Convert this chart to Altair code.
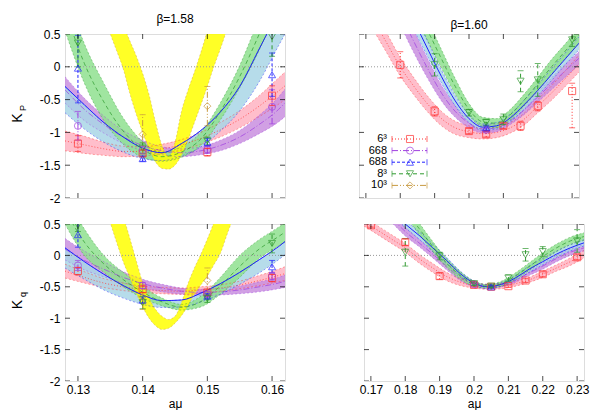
import altair as alt
import pandas as pd

FONT = "Liberation Sans"

SERIES = ["6^3", "668", "688", "8^3", "10^3"]
LEGEND_TEXT = ["6³", "668", "688", "8³", "10³"]
LINE_COLORS = ["#ff3030", "#a040e0", "#2020ff", "#309a30", "#c89a40"]
BAND_COLORS = ["#ffb3c2", "#c98fdf", "#a9d6e6", "#8fe08f", "#ffff00"]
SHAPES = ["square", "circle", "triangle-up", "triangle-down", "diamond"]
DASHES = [[1, 2], [6, 2, 1, 2], [3, 2], [4, 3], [6, 2, 1, 2, 1, 2]]

Y_TICKS = [0.5, 0, -0.5, -1, -1.5, -2]
X_TICKS_LEFT = [0.13, 0.14, 0.15, 0.16]
X_TICKS_RIGHT = [0.17, 0.18, 0.19, 0.2, 0.21, 0.22, 0.23]

X_LEFT = [0.128, 0.131, 0.134, 0.137, 0.140, 0.143, 0.146, 0.149, 0.152, 0.155, 0.158, 0.161, 0.162]
X_RIGHT = [0.168, 0.172, 0.176, 0.180, 0.184, 0.188, 0.192, 0.196, 0.200, 0.204,
           0.208, 0.212, 0.216, 0.220, 0.224, 0.228, 0.232]
X_YELLOW = [0.134, 0.135, 0.136, 0.137, 0.138, 0.139, 0.140, 0.141, 0.142, 0.143, 0.144,
            0.145, 0.146, 0.147, 0.148, 0.149, 0.150, 0.151, 0.152, 0.153, 0.154]

# ---- beta=1.58, K_P (top-left): band lower / upper edges
TL_RED_LO = [-1.28, -1.32, -1.35, -1.37, -1.36, -1.32, -1.27, -1.18, -1.07, -0.93, -0.76, -0.57, -0.50]
TL_RED_HI = [-0.98, -1.06, -1.15, -1.21, -1.22, -1.18, -1.11, -1.00, -0.85, -0.67, -0.44, -0.17, -0.08]
TL_PUR_LO = [-0.55, -0.82, -1.01, -1.17, -1.28, -1.34, -1.37, -1.34, -1.28, -1.17, -1.02, -0.84, -0.76]
TL_PUR_HI = [-0.15, -0.48, -0.75, -0.97, -1.12, -1.22, -1.25, -1.22, -1.12, -0.97, -0.74, -0.46, -0.34]
TL_BLU_LO = [-0.70, -0.95, -1.15, -1.30, -1.40, -1.43, -1.36, -1.22, -0.98, -0.67, -0.23, 0.32, 0.50]
TL_BLU_HI = [-0.30, -0.58, -0.85, -1.07, -1.24, -1.31, -1.17, -0.97, -0.69, -0.30, 0.27, 0.85, 1.05]
TL_GRN_LO = [0.55, -0.25, -0.82, -1.18, -1.38, -1.44, -1.38, -1.20, -0.81, -0.32, 0.25, 0.95, 1.20]
TL_GRN_HI = [1.20, 0.35, -0.25, -0.78, -1.14, -1.30, -1.22, -1.00, -0.55, 0.02, 0.74, 1.45, 1.70]
TL_YEL_LO = [0.78, 0.50, 0.24, -0.03, -0.40, -0.72, -1.00, -1.25, -1.45, -1.55, -1.56,
             -1.50, -1.35, -1.12, -0.85, -0.58, -0.30, 0.00, 0.27, 0.56, 0.85]
TL_YEL_HI = [1.36, 1.12, 0.88, 0.64, 0.40, 0.17, -0.10, -0.43, -0.85, -1.20, -1.36,
             -1.15, -0.68, -0.36, -0.08, 0.22, 0.55, 0.90, 1.25, 1.60, 2.00]

# ---- beta=1.58, K_q (bottom-left)
BL_RED_LO = [-0.36, -0.44, -0.51, -0.56, -0.59, -0.61, -0.62, -0.60, -0.57, -0.53, -0.48, -0.42, -0.40]
BL_RED_HI = [-0.14, -0.26, -0.37, -0.44, -0.49, -0.51, -0.52, -0.50, -0.47, -0.41, -0.32, -0.22, -0.18]
BL_PUR_LO = [-0.07, -0.23, -0.34, -0.44, -0.52, -0.58, -0.62, -0.64, -0.63, -0.61, -0.58, -0.53, -0.51]
BL_PUR_HI = [0.27, 0.07, -0.10, -0.26, -0.38, -0.46, -0.52, -0.54, -0.53, -0.49, -0.42, -0.35, -0.31]
BL_BLU_LO = [-0.20, -0.38, -0.55, -0.68, -0.78, -0.83, -0.82, -0.74, -0.62, -0.46, -0.28, -0.07, 0.01]
BL_BLU_HI = [0.12, -0.10, -0.30, -0.48, -0.63, -0.72, -0.71, -0.60, -0.45, -0.27, -0.07, 0.14, 0.22]
BL_GRN_LO = [0.50, 0.00, -0.27, -0.50, -0.68, -0.80, -0.87, -0.82, -0.62, -0.35, -0.05, 0.15, 0.22]
BL_GRN_HI = [0.95, 0.42, 0.00, -0.27, -0.49, -0.68, -0.78, -0.65, -0.35, 0.00, 0.25, 0.45, 0.52]
BL_YEL_LO = [0.85, 0.52, 0.20, -0.10, -0.35, -0.60, -0.82, -1.00, -1.12, -1.18, -1.16,
             -1.08, -0.96, -0.80, -0.62, -0.47, -0.33, -0.15, 0.03, 0.32, 0.60]
BL_YEL_HI = [1.68, 1.33, 0.98, 0.63, 0.28, -0.08, -0.43, -0.68, -0.86, -0.97, -1.02,
             -0.97, -0.75, -0.45, -0.20, 0.02, 0.26, 0.52, 0.80, 1.10, 1.40]

# ---- beta=1.60, K_P (top-right)
TR_RED_LO = [0.96, 0.58, 0.22, -0.14, -0.43, -0.69, -0.90, -1.03, -1.08, -1.10, -1.08, -1.01, -0.89, -0.70, -0.51, -0.30, -0.08]
TR_RED_HI = [1.28, 0.90, 0.52, 0.14, -0.17, -0.45, -0.68, -0.83, -0.90, -0.94, -0.92, -0.85, -0.71, -0.50, -0.29, -0.06, 0.18]
TR_PUR_LO = [2.00, 1.55, 1.09, 0.64, 0.21, -0.18, -0.52, -0.77, -0.93, -1.01, -0.99, -0.88, -0.73, -0.54, -0.35, -0.16, 0.03]
TR_PUR_HI = [2.40, 1.95, 1.47, 1.00, 0.55, 0.12, -0.28, -0.59, -0.79, -0.89, -0.87, -0.76, -0.59, -0.38, -0.17, 0.04, 0.23]
TR_BLU_LO = [2.36, 1.91, 1.46, 1.01, 0.56, 0.15, -0.25, -0.60, -0.85, -0.97, -0.95, -0.84, -0.65, -0.44, -0.21, 0.03, 0.26]
TR_BLU_HI = [2.64, 2.19, 1.74, 1.29, 0.84, 0.39, -0.05, -0.44, -0.73, -0.87, -0.85, -0.72, -0.51, -0.28, -0.03, 0.21, 0.46]
TR_GRN_LO = [2.52, 2.12, 1.67, 1.23, 0.80, 0.39, -0.02, -0.42, -0.74, -0.91, -0.93, -0.81, -0.60, -0.36, -0.11, 0.13, 0.36]
TR_GRN_HI = [2.88, 2.48, 2.03, 1.57, 1.14, 0.71, 0.26, -0.18, -0.56, -0.77, -0.79, -0.65, -0.42, -0.16, 0.11, 0.35, 0.60]

# ---- beta=1.60, K_q (bottom-right)
BR_RED_LO = [0.47, 0.33, 0.19, 0.05, -0.12, -0.27, -0.40, -0.48, -0.52, -0.54, -0.53, -0.49, -0.43, -0.35, -0.25, -0.16, -0.04]
BR_RED_HI = [0.61, 0.47, 0.33, 0.19, 0.02, -0.13, -0.27, -0.37, -0.44, -0.46, -0.45, -0.41, -0.35, -0.25, -0.15, -0.04, 0.08]
BR_PUR_LO = [1.03, 0.78, 0.53, 0.31, 0.14, -0.04, -0.23, -0.40, -0.50, -0.53, -0.50, -0.43, -0.32, -0.22, -0.10, 0.00, 0.07]
BR_PUR_HI = [1.17, 0.92, 0.67, 0.45, 0.26, 0.08, -0.11, -0.30, -0.42, -0.47, -0.44, -0.35, -0.24, -0.12, 0.00, 0.10, 0.17]
BR_BLU_LO = [1.14, 0.89, 0.66, 0.44, 0.26, 0.06, -0.13, -0.33, -0.47, -0.53, -0.49, -0.40, -0.27, -0.15, -0.03, 0.07, 0.15]
BR_BLU_HI = [1.26, 1.01, 0.78, 0.56, 0.38, 0.18, -0.03, -0.25, -0.41, -0.47, -0.43, -0.32, -0.17, -0.05, 0.07, 0.17, 0.25]
BR_GRN_LO = [1.40, 1.15, 0.90, 0.63, 0.34, 0.06, -0.19, -0.38, -0.49, -0.52, -0.49, -0.38, -0.24, -0.08, 0.06, 0.17, 0.24]
BR_GRN_HI = [1.60, 1.35, 1.10, 0.81, 0.52, 0.22, -0.05, -0.26, -0.41, -0.46, -0.41, -0.28, -0.12, 0.04, 0.18, 0.29, 0.36]

# ---- measured points: (series index, a*mu, value, error low, error high)
TL_POINTS = [
    (0, 0.13, -1.17, -1.29, -1.05), (0, 0.14, -1.32, -1.37, -1.27), (0, 0.15, -1.30, -1.36, -1.24), (0, 0.16, -0.44, -0.59, -0.29),
    (1, 0.13, -0.90, -1.12, -0.68), (1, 0.14, -1.27, -1.33, -1.21), (1, 0.15, -1.26, -1.32, -1.20), (1, 0.16, -0.61, -0.87, -0.35),
    (2, 0.13, -0.02, -0.55, 0.48), (2, 0.14, -1.40, -1.44, -1.36), (2, 0.15, -1.15, -1.21, -1.09), (2, 0.16, -0.12, -0.45, 0.21),
    (3, 0.13, 0.36, 0.00, 0.72), (3, 0.14, -1.24, -1.32, -1.16), (3, 0.15, -1.13, -1.19, -1.07), (3, 0.16, 0.46, 0.16, 0.76),
    (4, 0.14, -1.03, -1.33, -0.73), (4, 0.15, -0.60, -0.90, -0.30),
]
BL_POINTS = [
    (0, 0.13, -0.25, -0.31, -0.19), (0, 0.14, -0.54, -0.59, -0.49), (0, 0.15, -0.59, -0.63, -0.55), (0, 0.16, -0.36, -0.42, -0.30),
    (1, 0.13, -0.16, -0.24, -0.08), (1, 0.14, -0.48, -0.53, -0.43), (1, 0.15, -0.62, -0.66, -0.58), (1, 0.16, -0.33, -0.39, -0.27),
    (2, 0.13, 0.33, 0.13, 0.53), (2, 0.14, -0.71, -0.76, -0.66), (2, 0.15, -0.65, -0.69, -0.61), (2, 0.16, -0.18, -0.28, -0.08),
    (3, 0.13, 0.48, 0.38, 0.58), (3, 0.14, -0.75, -0.85, -0.65), (3, 0.15, -0.69, -0.75, -0.63), (3, 0.16, 0.19, 0.04, 0.34),
    (4, 0.14, -0.66, -0.86, -0.46), (4, 0.15, -0.40, -0.60, -0.20),
]
TR_POINTS = [
    (0, 0.18, 0.03, -0.17, 0.23), (0, 0.19, -0.68, -0.75, -0.61), (0, 0.20, -0.98, -1.02, -0.94), (0, 0.205, -1.03, -1.07, -0.99),
    (0, 0.21, -0.90, -0.94, -0.86), (0, 0.215, -0.90, -0.97, -0.83), (0, 0.22, -0.60, -0.67, -0.53), (0, 0.23, -0.37, -0.93, -0.25),
    (1, 0.205, -0.96, -0.99, -0.93),
    (2, 0.205, -0.93, -0.97, -0.89),
    (3, 0.19, 0.03, -0.14, 0.20), (3, 0.20, -0.70, -0.75, -0.65), (3, 0.205, -0.85, -0.90, -0.80), (3, 0.21, -0.80, -0.88, -0.72),
    (3, 0.215, -0.22, -0.38, -0.06), (3, 0.22, -0.20, -0.45, 0.05), (3, 0.23, 0.41, 0.31, 0.51),
]
BR_POINTS = [
    (0, 0.17, 0.48, 0.45, 0.51), (0, 0.18, 0.21, 0.16, 0.26), (0, 0.19, -0.33, -0.38, -0.28), (0, 0.20, -0.47, -0.50, -0.44),
    (0, 0.205, -0.50, -0.52, -0.48), (0, 0.21, -0.49, -0.51, -0.47), (0, 0.215, -0.40, -0.43, -0.37), (0, 0.22, -0.30, -0.34, -0.26),
    (0, 0.23, -0.03, -0.07, 0.01),
    (1, 0.20, -0.46, -0.48, -0.44),
    (2, 0.205, -0.50, -0.52, -0.48),
    (3, 0.18, 0.05, -0.17, 0.27), (3, 0.19, -0.01, -0.07, 0.05), (3, 0.20, -0.45, -0.48, -0.42), (3, 0.205, -0.49, -0.51, -0.47),
    (3, 0.21, -0.36, -0.41, -0.31), (3, 0.215, 0.01, -0.09, 0.11), (3, 0.22, 0.06, -0.02, 0.14), (3, 0.23, 0.23, 0.05, 0.41),
]

W = 220
H_TOP = 164
H_BOT = 157


def make_panel(xdom, xticks, bands, points, height, show_xlab, show_ylab,
               title=None, ysym=None, ysub=None, legend=False):
    xsc = alt.Scale(domain=xdom, nice=False, zero=False)
    ysc = alt.Scale(domain=[-2, 0.5], nice=False, zero=False)
    xe = alt.X("x:Q", scale=xsc, axis=None)
    layers = []
    for i, xs, lo, hi, solid_on_hi in bands:
        df = pd.DataFrame({"x": xs, "lo": lo, "hi": hi})
        layers.append(alt.Chart(df).mark_area(clip=True, interpolate="monotone",
                                              color=BAND_COLORS[i], opacity=0.85)
                      .encode(x=xe, y=alt.Y("lo:Q", scale=ysc, axis=None), y2="hi:Q"))
    for i, xs, lo, hi, solid_on_hi in bands:
        df = pd.DataFrame({"x": xs, "lo": lo, "hi": hi})
        df["mid"] = (df["lo"] + df["hi"]) / 2
        for col in ["lo", "hi"]:
            layers.append(alt.Chart(df).mark_line(clip=True, interpolate="monotone",
                                                  color=LINE_COLORS[i], strokeWidth=0.7,
                                                  strokeDash=[2, 2], opacity=0.6)
                          .encode(x=xe, y=alt.Y(col + ":Q", scale=ysc, axis=None)))
        if i == 2:
            col = "hi" if solid_on_hi else "mid"
            layers.append(alt.Chart(df).mark_line(clip=True, interpolate="monotone",
                                                  color=LINE_COLORS[i], strokeWidth=1)
                          .encode(x=xe, y=alt.Y(col + ":Q", scale=ysc, axis=None)))
        elif i != 4:
            layers.append(alt.Chart(df).mark_line(clip=True, interpolate="monotone",
                                                  color=LINE_COLORS[i], strokeWidth=0.9,
                                                  strokeDash=DASHES[i], opacity=0.8)
                          .encode(x=xe, y=alt.Y("mid:Q", scale=ysc, axis=None)))
    layers.append(alt.Chart(pd.DataFrame({"y": [0]})).mark_rule(color="#999999", strokeDash=[1, 2], strokeWidth=1)
                  .encode(y=alt.Y("y:Q", scale=ysc, axis=None)))
    pdf = pd.DataFrame(points, columns=["i", "x", "y", "lo", "hi"])
    pdf["s"] = [SERIES[k] for k in pdf["i"]]
    col = alt.Color("s:N", scale=alt.Scale(domain=SERIES, range=LINE_COLORS), legend=None)
    dash = alt.StrokeDash("s:N", scale=alt.Scale(domain=SERIES, range=DASHES), legend=None)
    shp = alt.Shape("s:N", scale=alt.Scale(domain=SERIES, range=SHAPES), legend=None)
    layers.append(alt.Chart(pdf).mark_rule(clip=True, strokeWidth=1)
                  .encode(x=xe, y=alt.Y("lo:Q", scale=ysc, axis=None), y2="hi:Q", color=col, strokeDash=dash))
    for c in ["lo", "hi"]:
        layers.append(alt.Chart(pdf).mark_tick(clip=True, orient="horizontal", size=6, thickness=1)
                      .encode(x=xe, y=alt.Y(c + ":Q", scale=ysc, axis=None), color=col))
    layers.append(alt.Chart(pdf).mark_point(clip=True, filled=False, size=50, strokeWidth=1)
                  .encode(x=xe, y=alt.Y("y:Q", scale=ysc, axis=None), color=col, shape=shp))
    ytdf = pd.DataFrame({"y": Y_TICKS})
    for xv in [2.5, W - 2.5]:
        layers.append(alt.Chart(ytdf).mark_tick(clip=True, orient="horizontal", size=5, thickness=1, color="black")
                      .encode(y=alt.Y("y:Q", scale=ysc, axis=None), x=alt.value(xv)))
    xtdf = pd.DataFrame({"x": xticks})
    for yv in [2.5, height - 2.5]:
        layers.append(alt.Chart(xtdf).mark_tick(clip=True, orient="vertical", size=5, thickness=1, color="black")
                      .encode(x=alt.X("x:Q", scale=xsc, axis=None), y=alt.value(yv)))
    adf = pd.DataFrame({"x": [xdom[0]], "y": [-2]})
    common = dict(ticks=False, domain=False, grid=False, minExtent=0,
                  labelFont=FONT, labelFontSize=12, labelColor="black")
    xaxis = None
    if show_xlab:
        xaxis = alt.Axis(orient="bottom", values=xticks, format="~g", labelPadding=3,
                         title="aμ", titleFont=FONT, titleFontSize=12, titleFontWeight="normal",
                         titlePadding=3, **common)
    yaxis = None
    if show_ylab:
        yaxis = alt.Axis(orient="left", values=Y_TICKS, format="~g",
                         labelExpr="replace(datum.label, '\u2212', '-')", labelPadding=5,
                         title=None, **common)
    layers.append(alt.Chart(adf).mark_point(clip=True, opacity=0, size=1)
                  .encode(x=alt.X("x:Q", scale=xsc, axis=xaxis), y=alt.Y("y:Q", scale=ysc, axis=yaxis)))
    if ysym:
        tdf = pd.DataFrame({"t": [ysym]})
        layers.append(alt.Chart(tdf).mark_text(angle=270, font=FONT, fontSize=14, align="center", baseline="middle")
                      .encode(text="t:N", x=alt.value(-47), y=alt.value(height / 2 + 2)))
        sdf = pd.DataFrame({"t": [ysub]})
        layers.append(alt.Chart(sdf).mark_text(angle=270, font=FONT, fontSize=9, align="center", baseline="middle")
                      .encode(text="t:N", x=alt.value(-42), y=alt.value(height / 2 - 8)))
    if legend:
        ldf = pd.DataFrame({"s": SERIES, "label": LEGEND_TEXT, "row": [0, 1, 2, 3, 4]})
        ly = alt.Y("row:Q", scale=alt.Scale(domain=[0, 4], range=[105, 151.4]), axis=None)
        layers.append(alt.Chart(ldf).mark_text(align="right", baseline="middle", font=FONT, fontSize=11)
                      .encode(text="label:N", x=alt.value(28), y=ly))
        layers.append(alt.Chart(ldf).mark_rule(strokeWidth=1)
                      .encode(x=alt.value(33), x2=alt.value(68), y=ly, color=col, strokeDash=dash))
        for xv in [33, 68]:
            layers.append(alt.Chart(ldf).mark_tick(orient="vertical", size=6, thickness=1)
                          .encode(x=alt.value(xv), y=ly, color=col))
        layers.append(alt.Chart(ldf).mark_point(filled=False, size=50, strokeWidth=1)
                      .encode(x=alt.value(51), y=ly, color=col, shape=shp))
    ch = alt.layer(*layers).resolve_axis(x="independent", y="independent")
    if legend:
        ch = ch.resolve_scale(y="independent")
    props = dict(width=W, height=height)
    if title:
        props["title"] = alt.TitleParams(title, font=FONT, fontSize=12, fontWeight="normal", offset=2)
    return ch.properties(**props)


TL = make_panel([0.128, 0.162], X_TICKS_LEFT,
                [(0, X_LEFT, TL_RED_LO, TL_RED_HI, False), (1, X_LEFT, TL_PUR_LO, TL_PUR_HI, False),
                 (2, X_LEFT, TL_BLU_LO, TL_BLU_HI, True), (3, X_LEFT, TL_GRN_LO, TL_GRN_HI, False),
                 (4, X_YELLOW, TL_YEL_LO, TL_YEL_HI, False)],
                TL_POINTS, H_TOP, False, True, title="β=1.58", ysym="K", ysub="P")
TR = make_panel([0.168, 0.232], X_TICKS_RIGHT,
                [(0, X_RIGHT, TR_RED_LO, TR_RED_HI, False), (1, X_RIGHT, TR_PUR_LO, TR_PUR_HI, False),
                 (2, X_RIGHT, TR_BLU_LO, TR_BLU_HI, False), (3, X_RIGHT, TR_GRN_LO, TR_GRN_HI, False)],
                TR_POINTS, H_TOP, False, False, title="β=1.60", legend=True)
BL = make_panel([0.128, 0.162], X_TICKS_LEFT,
                [(0, X_LEFT, BL_RED_LO, BL_RED_HI, False), (1, X_LEFT, BL_PUR_LO, BL_PUR_HI, False),
                 (2, X_LEFT, BL_BLU_LO, BL_BLU_HI, True), (3, X_LEFT, BL_GRN_LO, BL_GRN_HI, False),
                 (4, X_YELLOW, BL_YEL_LO, BL_YEL_HI, False)],
                BL_POINTS, H_BOT, True, True, ysym="K", ysub="q")
BR = make_panel([0.168, 0.232], X_TICKS_RIGHT,
                [(0, X_RIGHT, BR_RED_LO, BR_RED_HI, False), (1, X_RIGHT, BR_PUR_LO, BR_PUR_HI, False),
                 (2, X_RIGHT, BR_BLU_LO, BR_BLU_HI, False), (3, X_RIGHT, BR_GRN_LO, BR_GRN_HI, False)],
                BR_POINTS, H_BOT, True, False)

chart = alt.vconcat(
    alt.hconcat(TL, TR, spacing=72),
    alt.hconcat(BL, BR, spacing=72),
    spacing=12,
).properties(padding={"left": 2, "top": 4, "right": 0, "bottom": 0}
).configure_view(stroke="#888888", strokeWidth=2
).configure(font=FONT, background="white")

chart.save("out.html", embed_options={"renderer": "svg", "actions": False})
